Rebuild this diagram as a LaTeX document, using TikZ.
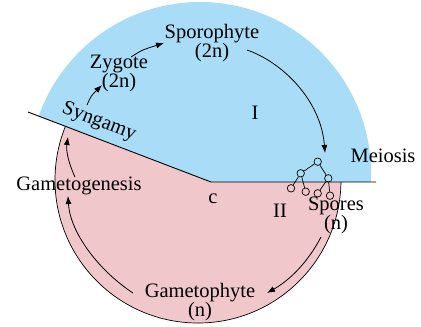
\documentclass[tikz,border=0pt]{standalone}
\usepackage{fontspec}
\setmainfont{Liberation Serif}
\newfontfamily\labelfont{Liberation Serif}
\usetikzlibrary{arrows.meta}
\definecolor{diplo}{HTML}{A9DDF7}
\definecolor{haplo}{HTML}{F0C8CB}

\begin{document}
\begin{tikzpicture}[x=1pt, y=-1pt,
    every node/.style={font=\labelfont\fontsize{20.5}{19}\selectfont},
    stage/.style={align=center, inner sep=0pt},
    arr/.style={-{Latex[length=8pt, width=6pt]}, line width=0.8pt},
    spore/.style={draw, circle, minimum size=7.5pt, inner sep=0pt, line width=0.7pt},
  ]
  \useasboundingbox (0,0) rectangle (421,327);

  \begin{scope}
    \clip (28,112) -- (211,182) -- (421,182) -- (421,0) -- (0,0) -- (0,112) -- cycle;
    \fill[diplo] (200,173) circle (171);
  \end{scope}
  \begin{scope}
    \clip (28,112) -- (211,182) -- (421,182) -- (421,327) -- (0,327) -- (0,112) -- cycle;
    \fill[haplo] (198,180) circle (143);
    \draw[line width=0.7pt] (198,180) circle (143);
  \end{scope}
  \draw[line width=0.9pt] (28,112) -- (211,182) -- (376,182);

  \node[stage] (sporo) at (212,43) {Sporophyte\\(2n)};
  \node[stage] (zyg) at (119,73) {Zygote\\(2n)};
  \node[stage, rotate=-21] (syn) at (99,122) {Syngamy};
  \node[stage] (mei) at (383,156) {Meiosis};
  \node[stage] (spores) at (336,215) {Spores\\(n)};
  \node[stage] (gphyte) at (200,302) {Gametophyte\\(n)};
  \node[stage] (ggen) at (79,186) {Gametogenesis};
  \node[stage] (one) at (255,113) {I};
  \node[stage] (two) at (280,211) {II};
  \node[stage] (cen) at (213,199) {c};

  \node[spore] (s0) at (317.7,161.7) {};
  \node[spore] (s1) at (300.7,173.3) {};
  \node[spore] (s2) at (328.3,178.3) {};
  \node[spore] (s3) at (291,188.3) {};
  \node[spore] (s4) at (305.7,191.7) {};
  \node[spore] (s5) at (317.7,193.3) {};
  \node[spore] (s6) at (330,195.7) {};
  \draw[line width=0.7pt] (s0) -- (s1) (s0) -- (s2)
    (s1) -- (s3) (s1) -- (s4) (s2) -- (s5) (s2) -- (s6);

  \coordinate (syn-out) at (87,105);
  \coordinate (zyg-in) at (102,85);
  \coordinate (zyg-out) at (131,57);
  \coordinate (sporo-in) at (164,43);
  \coordinate (sporo-out) at (247,50);
  \coordinate (mei-in) at (325,153);
  \coordinate (spores-out) at (321,237);
  \coordinate (gphyte-in) at (267,293);
  \coordinate (gphyte-out) at (133,293);
  \coordinate (ggen-in) at (68,196);
  \coordinate (ggen-out) at (75,177);
  \coordinate (syn-in) at (68,137);

  \draw[arr] (syn-out) .. controls (91,96) .. (zyg-in);
  \draw[arr] (zyg-out) .. controls (142,50) .. (sporo-in);
  \draw[arr] (sporo-out) .. controls (282,62) and (321,100) .. (mei-in);
  \draw[arr] (spores-out) .. controls (308,262) and (290,280) .. (gphyte-in);
  \draw[arr] (gphyte-out) .. controls (98,270) and (70,232) .. (ggen-in);
  \draw[arr] (ggen-out) .. controls (68,162) and (66,150) .. (syn-in);
\end{tikzpicture}
\end{document}
